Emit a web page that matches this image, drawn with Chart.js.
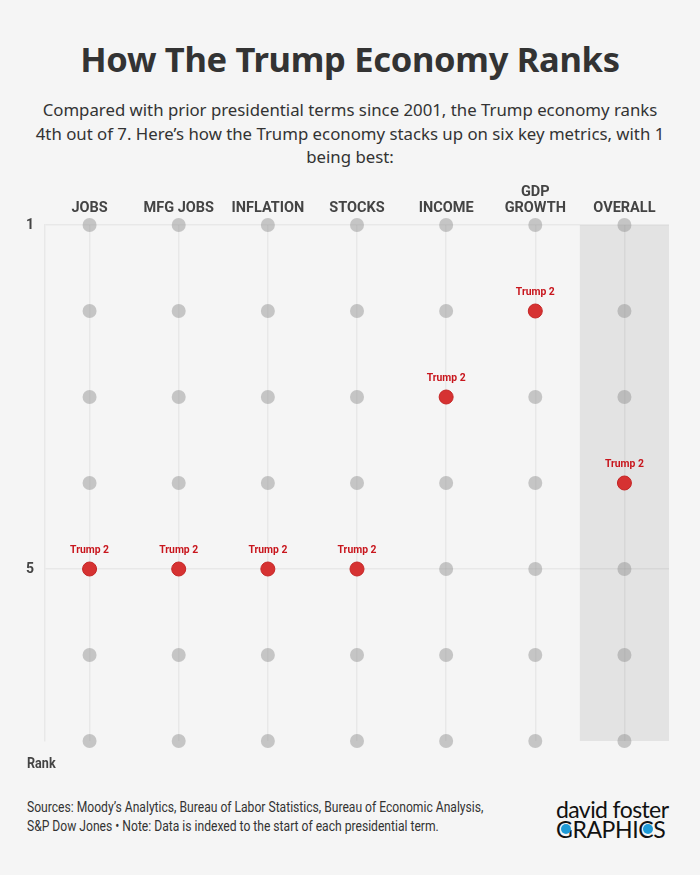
<!DOCTYPE html>
<html>
<head>
  <title>How The Trump Economy Ranks</title>
  <script src="https://cdn.jsdelivr.net/npm/chart.js"></script>
  <style>
    body { margin: 0; background: #f5f5f5; width: 700px; height: 875px; position: relative; overflow: hidden; }
    .title { position: absolute; top: 35px; left: 0; width: 700px; text-align: center; font-family: "Noto Sans", sans-serif; font-weight: 700; font-size: 34.5px; color: #333; letter-spacing: -0.3px; }
    .sub { position: absolute; top: 98px; left: 0; width: 700px; text-align: center; font-family: "Noto Sans", sans-serif; font-size: 16.8px; line-height: 23.5px; color: #333; white-space: nowrap; }
    #wrap { position: absolute; top: 170px; left: 0; width: 700px; height: 610px; }
    .rank { position: absolute; top: 755px; left: 27px; font-family: Roboto, sans-serif; font-weight: 700; font-size: 14px; color: #444; transform: scaleX(0.9); transform-origin: left; }
    .foot { position: absolute; top: 798px; left: 27px; font-family: Roboto, sans-serif; font-size: 14px; line-height: 18.5px; color: #333; white-space: nowrap; transform: scaleX(0.865); transform-origin: left top; }
    .logo { position: absolute; top: 799px; left: 556px; font-family: Lato, sans-serif; color: #111; line-height: 20px; }
    .logo .a { font-size: 23px; letter-spacing: -0.6px; }
    .logo .b { font-size: 23px; letter-spacing: -0.4px; }
    .dot { position: relative; }
    .dot::after { content: ""; position: absolute; left: 5px; top: 9px; width: 10px; height: 10px; border-radius: 50%; background: #1e9ad6; }
  </style>
</head>
<body>
  <div class="title">How The Trump Economy Ranks</div>
  <div class="sub">Compared with prior presidential terms since 2001, the Trump economy ranks<br>4th out of 7. Here’s how the Trump economy stacks up on six key metrics, with 1<br>being best:</div>
  <div id="wrap"><canvas id="rankChart" width="700" height="610"></canvas></div>
  <div class="rank">Rank</div>
  <div class="foot">Sources: Moody’s Analytics, Bureau of Labor Statistics, Bureau of Economic Analysis,<br>S&amp;P Dow Jones • Note: Data is indexed to the start of each presidential term.</div>
  <div class="logo"><div class="a">david foster</div><div class="b"><span class="dot">G</span>RAPHI<span class="dot">C</span>S</div></div>

  <script>
    // metrics across the top, ranks 1 (best) to 7
    const metrics = ['JOBS', 'MFG JOBS', 'INFLATION', 'STOCKS', 'INCOME', 'GDP GROWTH', 'OVERALL'];
    const tickLabels = ['JOBS', 'MFG JOBS', 'INFLATION', 'STOCKS', 'INCOME', ['GDP', 'GROWTH'], 'OVERALL'];
    const ranks = [1, 2, 3, 4, 5, 6, 7];
    const trumpRanks = [5, 5, 5, 5, 3, 2, 4];
    const shownRankTicks = [1, 5];

    // gray dots for every other term
    const otherPoints = [];
    metrics.forEach((m, i) => {
      ranks.forEach(r => {
        if (r !== trumpRanks[i]) otherPoints.push({ x: m, y: r });
      });
    });
    const trumpPoints = trumpRanks.map((r, i) => ({ x: metrics[i], y: r }));

    // shaded band behind the OVERALL column
    const overallShade = {
      id: 'overallShade',
      beforeDraw(chart) {
        const { ctx, chartArea, scales } = chart;
        const x = scales.x;
        const half = (x.getPixelForValue(1) - x.getPixelForValue(0)) / 2;
        const cx = x.getPixelForValue(metrics.length - 1);
        ctx.save();
        ctx.fillStyle = '#e3e3e3';
        ctx.fillRect(cx - half, chartArea.top, half * 2, chartArea.bottom - chartArea.top);
        ctx.restore();
      }
    };

    // "Trump 2" labels over the red dots
    const trumpLabels = {
      id: 'trumpLabels',
      afterDatasetsDraw(chart) {
        const { ctx } = chart;
        const meta = chart.getDatasetMeta(1);
        ctx.save();
        ctx.font = 'bold 11.5px Roboto, sans-serif';
        ctx.fillStyle = '#c8161d';
        ctx.textAlign = 'center';
        ctx.textBaseline = 'middle';
        meta.data.forEach(pt => {
          ctx.save();
          ctx.translate(pt.x, pt.y - 19);
          ctx.scale(0.9, 1);
          ctx.fillText('Trump 2', 0, 0);
          ctx.restore();
        });
        ctx.restore();
      }
    };

    new Chart(document.getElementById('rankChart'), {
      type: 'line',
      data: {
        labels: metrics,
        datasets: [{
          label: 'Other terms',
          data: otherPoints,
          showLine: false,
          pointRadius: 7,
          pointHoverRadius: 7,
          pointBorderWidth: 0,
          pointBackgroundColor: 'rgba(150, 150, 150, 0.5)',
          clip: false
        }, {
          label: 'Trump 2',
          data: trumpPoints,
          showLine: false,
          pointRadius: 7,
          pointHoverRadius: 7,
          pointBorderWidth: 1,
          pointBorderColor: '#c42525',
          pointBackgroundColor: '#d63232',
          clip: false
        }]
      },
      options: {
        responsive: false,
        animation: false,
        events: [],
        layout: { padding: { left: 0, right: 31, top: 0, bottom: 39 } },
        plugins: {
          legend: { display: false },
          tooltip: { enabled: false }
        },
        scales: {
          x: {
            type: 'category',
            position: 'top',
            offset: true,
            afterFit: s => { s.height = 55; },
            grid: { offset: false, color: 'rgba(0,0,0,0.05)', lineWidth: 1.5, drawTicks: false },
            border: { display: false },
            ticks: {
              padding: 9,
              color: '#444',
              font: { family: 'Roboto, sans-serif', weight: 'bold', size: 14.5, lineHeight: 1.1 },
              maxRotation: 0,
              autoSkip: false,
              callback: (v, i) => tickLabels[i]
            }
          },
          y: {
            type: 'linear',
            reverse: true,
            min: 1,
            max: 7,
            afterFit: s => { s.width = 45; },
            grid: {
              drawTicks: false,
              color: c => shownRankTicks.includes(c.tick.value) ? 'rgba(0,0,0,0.05)' : 'rgba(0,0,0,0)',
              lineWidth: 1.5
            },
            border: { display: true, color: 'rgba(0,0,0,0.05)', width: 1.5 },
            ticks: {
              stepSize: 1,
              padding: 11,
              color: '#444',
              font: { family: 'Roboto, sans-serif', weight: 'bold', size: 14 },
              callback: v => shownRankTicks.includes(v) ? String(v) : ''
            }
          }
        }
      },
      plugins: [overallShade, trumpLabels]
    });
  </script>
</body>
</html>
